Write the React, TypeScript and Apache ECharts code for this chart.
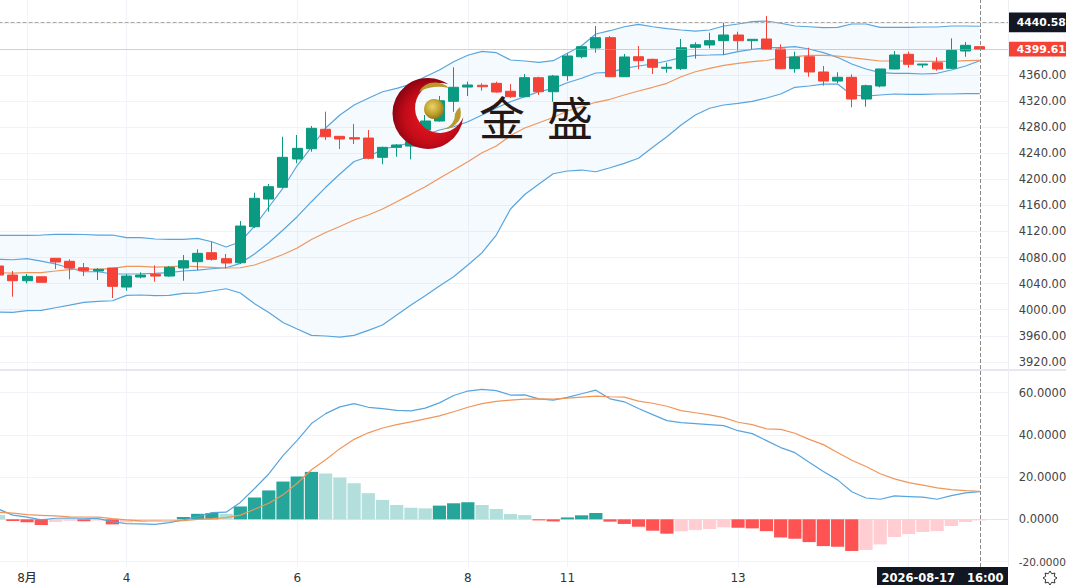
import React, { useEffect, useRef } from "react";
import * as echarts from "echarts";

const opens = [4067.0,4053.1,4044.4,4050.5,4078.8,4074.2,4064.3,4059.3,4063.9,4034.7,4050.1,4054.2,4051.6,4063.9,4073.6,4087.4,4078.2,4072.0,4127.2,4169.7,4187.7,4231.1,4246.9,4276.7,4265.9,4263.8,4263.3,4233.7,4249.0,4251.0,4275.6,4289.4,4319.6,4341.5,4344.2,4347.2,4335.0,4326.7,4355.8,4334.3,4358.9,4388.0,4401.4,4417.2,4357.3,4388.0,4384.0,4370.2,4369.6,4402.4,4406.0,4412.6,4421.3,4412.6,4415.2,4399.8,4369.6,4388.0,4364.6,4350.7,4356.4,4323.1,4343.1,4369.2,4391.7,4375.3,4378.8,4370.2,4396.8,4403.4];
const closes = [4053.1,4044.4,4051.1,4042.0,4073.1,4063.9,4059.7,4061.9,4035.8,4051.6,4053.1,4051.6,4065.0,4075.1,4086.4,4077.2,4071.6,4128.3,4170.8,4188.6,4233.7,4247.5,4278.2,4265.3,4261.8,4261.8,4232.2,4249.0,4252.6,4257.6,4289.4,4320.5,4341.1,4344.6,4342.0,4333.9,4326.7,4355.8,4334.3,4358.4,4389.1,4403.4,4417.2,4357.3,4387.6,4381.9,4371.8,4371.8,4401.8,4406.4,4412.6,4421.3,4412.6,4414.7,4399.4,4369.6,4387.6,4364.6,4350.7,4356.4,4323.1,4343.5,4369.2,4390.6,4376.4,4376.8,4369.2,4397.8,4405.5,4399.61];
const lows = [4048.6,4019.9,4040.4,4042.0,4062.4,4046.6,4051.6,4045.5,4017.9,4029.1,4048.1,4042.9,4050.5,4044.4,4060.8,4075.1,4063.4,4070.0,4125.2,4150.3,4186.6,4224.5,4242.3,4260.2,4246.4,4254.1,4230.6,4223.0,4234.6,4230.6,4267.9,4288.3,4303.6,4327.7,4335.9,4332.8,4324.7,4325.7,4329.3,4319.0,4351.2,4385.6,4394.2,4357.3,4357.3,4368.7,4361.5,4363.5,4367.6,4385.0,4400.9,4390.6,4397.2,4398.3,4399.4,4368.7,4363.5,4357.3,4343.5,4347.2,4310.4,4311.3,4341.1,4368.7,4371.1,4371.1,4366.5,4369.2,4388.0,4399.61];
const highs = [4073.1,4059.3,4054.7,4050.5,4078.8,4077.2,4071.6,4063.9,4063.9,4054.7,4057.3,4068.0,4067.0,4083.8,4092.6,4104.2,4085.4,4136.0,4179.4,4192.7,4265.3,4267.9,4281.7,4303.7,4266.4,4284.8,4275.6,4250.0,4254.1,4260.2,4298.6,4327.7,4371.8,4349.7,4347.2,4349.7,4346.1,4361.5,4357.3,4360.0,4393.2,4403.4,4435.1,4419.8,4392.2,4404.4,4385.0,4378.8,4415.2,4410.1,4424.8,4440.2,4426.4,4414.7,4450.5,4407.0,4395.7,4401.8,4373.8,4364.1,4361.0,4345.1,4369.2,4396.8,4395.7,4376.8,4387.1,4416.2,4410.6,4403.4];

const bandUpper = [4114.0,4114.0,4114.0,4114.5,4115.6,4115.6,4115.3,4114.5,4114.5,4110.4,4110.4,4108.4,4107.9,4107.9,4109.4,4104.2,4096.1,4104.2,4128.3,4157.5,4186.6,4221.1,4249.5,4278.6,4298.6,4313.9,4324.2,4334.3,4339.5,4346.1,4357.3,4367.6,4380.4,4390.2,4396.3,4394.2,4383.0,4381.4,4379.4,4381.9,4393.2,4404.9,4422.8,4427.9,4434.0,4437.7,4434.0,4431.0,4429.0,4427.4,4429.0,4435.1,4438.2,4441.7,4442.8,4439.3,4435.1,4434.0,4432.5,4433.1,4438.2,4438.2,4433.1,4433.1,4433.1,4433.6,4433.6,4435.1,4435.1,4434.7];
const bandInner = [4077.2,4076.6,4078.2,4074.6,4070.0,4063.9,4058.2,4058.2,4054.7,4054.7,4055.1,4055.8,4056.7,4059.3,4060.8,4062.8,4064.3,4071.1,4085.4,4102.7,4122.2,4142.6,4165.6,4187.7,4208.1,4227.3,4234.6,4246.0,4251.0,4256.1,4267.9,4275.6,4280.6,4288.3,4298.6,4309.3,4319.0,4326.7,4334.3,4339.5,4348.1,4354.9,4363.0,4364.1,4370.2,4373.8,4376.8,4381.4,4386.5,4390.2,4390.6,4391.1,4395.7,4399.4,4401.8,4401.8,4403.4,4399.8,4394.2,4387.1,4376.8,4369.2,4363.5,4362.6,4362.6,4361.5,4362.6,4367.6,4373.8,4381.9];
const bandMiddle = [4056.7,4056.2,4056.7,4056.7,4059.3,4061.3,4062.8,4061.9,4063.4,4066.5,4066.5,4065.4,4065.9,4067.0,4065.9,4065.0,4063.9,4064.3,4068.5,4076.2,4084.6,4094.6,4107.6,4118.3,4127.5,4137.5,4145.2,4154.4,4165.6,4176.9,4188.6,4201.5,4214.2,4227.0,4240.8,4251.0,4267.1,4278.6,4286.8,4294.8,4304.7,4311.3,4318.1,4322.7,4329.3,4335.4,4341.1,4347.2,4357.3,4365.0,4370.2,4374.8,4377.9,4380.4,4382.2,4386.0,4388.0,4390.2,4390.2,4389.1,4386.5,4384.0,4381.4,4381.4,4381.4,4381.0,4381.0,4381.0,4381.9,4382.5];
const bandLower = [3996.4,3995.9,3998.4,3999.0,4003.0,4007.1,4011.3,4012.8,4013.7,4022.0,4022.5,4021.4,4022.0,4025.1,4025.5,4028.6,4032.1,4025.5,4009.1,3995.6,3980.3,3970.3,3960.6,3959.6,3958.0,3960.6,3968.3,3976.4,3991.8,4007.1,4021.4,4036.3,4050.5,4068.5,4087.4,4114.5,4154.4,4176.6,4192.7,4208.5,4212.7,4214.2,4211.6,4217.7,4224.5,4232.2,4249.0,4265.3,4283.3,4298.6,4308.9,4313.9,4316.5,4319.6,4324.7,4330.8,4341.1,4343.1,4346.1,4346.1,4329.3,4327.7,4329.3,4330.8,4330.3,4330.3,4330.8,4330.8,4331.3,4331.3];

const macdLine = [4.8,2.0,1.0,-0.3,0.5,0.6,0.5,0.3,-1.1,-2.1,-2.2,-2.4,-1.6,-0.3,1.2,3.2,3.4,8.0,14.6,21.5,30.2,37.4,45.4,50.1,53.3,54.8,53.1,52.5,51.6,51.4,52.7,55.2,58.7,60.8,61.6,61.0,58.9,59.0,57.1,56.5,57.8,59.5,61.2,57.1,55.7,52.5,49.6,46.8,45.8,45.4,44.9,44.4,42.0,40.6,37.3,34.0,31.6,27.1,22.7,18.7,13.1,10.1,9.5,11.1,10.8,10.5,9.5,11.2,12.5,13.1];
const signalLine = [3.3,2.9,2.2,1.9,1.6,1.2,1.1,1.0,0.3,-0.3,-0.7,-0.8,-0.8,-0.6,0.0,0.3,0.8,2.0,4.8,7.6,11.6,17.1,23.5,28.2,33.5,37.9,41.0,43.3,44.9,46.2,47.6,49.0,51.0,53.1,54.8,55.9,56.5,57.0,57.1,57.0,57.4,57.9,58.4,58.1,57.9,56.0,55.0,53.6,51.5,50.5,49.5,48.2,46.0,44.9,42.9,42.6,40.8,37.9,35.4,31.7,28.0,25.0,21.6,19.2,17.4,16.2,14.9,14.1,13.6,13.3];
const histogram = [2.0,-0.8,-1.4,-2.7,-1.3,-0.7,-0.9,-0.6,-2.4,-1.5,-1.2,-0.8,-0.5,1.1,2.6,3.0,2.6,6.1,10.4,13.7,17.9,20.3,22.5,21.7,19.8,17.1,12.4,9.2,6.8,5.5,5.2,6.5,7.6,8.1,6.8,4.9,2.5,2.0,-0.5,-1.0,0.9,1.9,3.0,-1.1,-2.2,-3.5,-5.4,-6.8,-5.7,-5.1,-4.6,-3.8,-4.0,-4.3,-5.6,-8.6,-9.2,-10.8,-12.7,-13.0,-15.0,-14.5,-11.9,-8.4,-7.0,-6.0,-5.6,-3.2,-1.3,-0.5];

const categoryCount = 72;
const dayGridIndex = [2, 9, 21, 33, 40, 52, 64];
const dayTickLabels = ["8月", "4", "6", "8", "11", "13", ""];
const priceGridTicks = [3920, 3960, 4000, 4040, 4080, 4120, 4160, 4200, 4240, 4280, 4320, 4360, 4400, 4440];
const priceLabelTicks = [3920, 3960, 4000, 4040, 4080, 4120, 4160, 4200, 4240, 4280, 4320, 4360];
const macdTicks = [-20, 0, 20, 40, 60];
const highMark = 4440.58;
const lastPrice = 4399.61;
const crosshairIndex = 69;
const crosshairDate = "2026-08-17   16:00";

const GREEN = "#0a9981";
const RED = "#f44336";
const GRID = "#f1f3f8";
const BLUE = "#58a5de";
const ORANGE = "#f0965a";
const LABEL = "#444444";
const FONT = "'DejaVu Sans', 'Noto Sans CJK SC', sans-serif";

echarts.graphic.registerShape(
  "jsCrescent",
  echarts.graphic.extendPath("M448.3 84.3 A35.5 35.5 0 1 0 463.3 117.1 A25 25 0 1 1 448.3 84.3 Z", {})
);
echarts.graphic.registerShape(
  "jsSwooshTop",
  echarts.graphic.extendPath("M419 92 Q424 82 436 82.5 Q444 83 449 88 Q440 86 434 87 Q425 88 419 92 Z", {})
);
echarts.graphic.registerShape(
  "jsSwooshLow",
  echarts.graphic.extendPath("M445 129 Q455 124 455 114 Q456 110 460 107 Q463 118 456 124 Q451 129 445 129 Z", {})
);

const gearPoints: number[][] = [];
for (let k = 0; k < 16; k++) {
  const r = k % 2 === 0 ? 7 : 4.6;
  const a = (k * Math.PI) / 8;
  gearPoints.push([1050 + r * Math.sin(a), 578 - r * Math.cos(a)]);
}

export default function App() {
  const ref = useRef<HTMLDivElement>(null);

  useEffect(() => {
    const chart = echarts.init(ref.current!, undefined, { renderer: "svg" });
    const categories = Array.from({ length: categoryCount }, (_, i) => String(i));
    const candles = opens.map((o, i) => [o, closes[i], lows[i], highs[i]]);
    const bandSpan = bandUpper.map((u, i) => +(u - bandLower[i]).toFixed(2));
    const isDay = (i: number) => dayGridIndex.indexOf(i) >= 0;
    const dayLabel = (i: number) => dayTickLabels[dayGridIndex.indexOf(i)] || "";

    const plainLine = (name: string, data: number[], color: string, x: number, z = 3) => ({
      name,
      type: "line",
      data,
      xAxisIndex: x,
      yAxisIndex: x,
      symbol: "none",
      silent: true,
      z,
      lineStyle: { color, width: 1.2 },
    });

    const vertical = (show: boolean) => ({
      show,
      interval: (i: number) => isDay(i),
      lineStyle: { color: GRID, width: 1 },
    });

    chart.setOption({
      animation: false,
      backgroundColor: "#ffffff",
      grid: [
        { left: -1.4, right: 57.8, top: 0, height: 369, outerBoundsMode: "none" },
        { left: -1.4, right: 57.8, top: 371, height: 196, outerBoundsMode: "none" },
      ],
      xAxis: [
        {
          type: "category",
          gridIndex: 0,
          data: categories,
          boundaryGap: false,
          axisLine: { show: false },
          axisTick: { show: false },
          axisLabel: { show: false },
          splitLine: vertical(true),
        },
        {
          type: "category",
          gridIndex: 1,
          data: categories,
          boundaryGap: false,
          axisLine: { show: true, lineStyle: { color: "#e4e6ec", width: 1 } },
          axisTick: { show: false },
          axisLabel: {
            interval: (i: number) => isDay(i) && dayLabel(i) !== "",
            formatter: (_: string, i: number) => dayLabel(i),
            color: "#333333",
            fontSize: 12,
            fontFamily: FONT,
            margin: 5,
            fontWeight: 500,
          },
          splitLine: vertical(true),
        },
      ],
      yAxis: [
        {
          type: "value",
          gridIndex: 0,
          position: "right",
          min: 3909,
          max: 4475,
          axisLine: { show: false },
          axisTick: { show: false, customValues: priceGridTicks },
          axisLabel: {
            customValues: priceLabelTicks,
            formatter: (v: number) => v.toFixed(2),
            color: LABEL,
            fontSize: 11.5,
            fontFamily: FONT,
            margin: 10.5,
            align: "left",
          },
          splitLine: { show: true, lineStyle: { color: GRID, width: 1 } },
        },
        {
          type: "value",
          gridIndex: 1,
          position: "right",
          min: -22.6,
          max: 70.3,
          axisLine: { show: false },
          axisTick: { show: false, customValues: macdTicks },
          axisLabel: {
            customValues: macdTicks,
            formatter: (v: number) => (v < 0 ? `{small|${v.toFixed(4)}}` : v.toFixed(4)),
            rich: { small: { fontSize: 10.5, color: LABEL, fontFamily: FONT } },
            color: LABEL,
            fontSize: 11.5,
            fontFamily: FONT,
            margin: 10.5,
            align: "left",
          },
          splitLine: { show: true, lineStyle: { color: GRID, width: 1 } },
        },
      ],
      series: [
        {
          name: "bandBase",
          type: "line",
          stack: "band",
          data: bandLower,
          symbol: "none",
          silent: true,
          z: 1,
          lineStyle: { opacity: 0, width: 0 },
        },
        {
          name: "bandFill",
          type: "line",
          stack: "band",
          data: bandSpan,
          symbol: "none",
          silent: true,
          z: 1,
          lineStyle: { opacity: 0, width: 0 },
          areaStyle: { color: "rgba(33,150,243,0.05)", opacity: 1 },
        },
        plainLine("upper", bandUpper, BLUE, 0),
        plainLine("inner", bandInner, BLUE, 0),
        plainLine("middle", bandMiddle, ORANGE, 0),
        plainLine("lower", bandLower, BLUE, 0),
        {
          name: "price",
          type: "candlestick",
          data: candles,
          barWidth: 10.5,
          silent: true,
          z: 4,
          itemStyle: {
            color: GREEN,
            color0: RED,
            borderColor: GREEN,
            borderColor0: RED,
            borderWidth: 1,
          },
          markLine: {
            silent: true,
            symbol: "none",
            animation: false,
            z: 6,
            data: [
              {
                yAxis: highMark,
                lineStyle: { color: "#a8a8a8", type: "dashed", width: 1 },
                label: {
                  show: true,
                  position: "end",
                  distance: 0,
                  formatter: highMark.toFixed(2),
                  color: "#ffffff",
                  fontWeight: "bold",
                  fontSize: 10.8,
                  fontFamily: FONT,
                  backgroundColor: "#131722",
                  padding: [4.5, 0.6, 4.5, 8.5],
                },
              },
              {
                yAxis: lastPrice,
                lineStyle: { color: "#f6918a", type: "dotted", width: 1 },
                label: {
                  show: true,
                  position: "end",
                  distance: 0,
                  formatter: lastPrice.toFixed(2),
                  color: "#ffffff",
                  fontWeight: "bold",
                  fontSize: 10.8,
                  fontFamily: FONT,
                  backgroundColor: RED,
                  padding: [2, 0.6, 2, 8.5],
                },
              },
              {
                xAxis: crosshairIndex,
                lineStyle: { color: "#8a8a8a", type: "dashed", width: 1 },
                label: { show: false },
              },
            ],
          },
        },
        {
          name: "histogram",
          type: "bar",
          xAxisIndex: 1,
          yAxisIndex: 1,
          data: histogram,
          barWidth: 13.2,
          silent: true,
          z: 2,
          itemStyle: {
            color: (p: any) => {
              const prev = p.dataIndex === 0 ? Infinity : histogram[p.dataIndex - 1];
              const v = p.value as number;
              if (v >= 0) return v > prev ? "#26a69a" : "#b2dfdb";
              return v < prev ? "#ff5252" : "#ffcdd2";
            },
          },
          markLine: {
            silent: true,
            symbol: "none",
            animation: false,
            z: 6,
            data: [
              {
                xAxis: crosshairIndex,
                lineStyle: { color: "#8a8a8a", type: "dashed", width: 1 },
                label: { show: false },
              },
            ],
          },
        },
        plainLine("macd", macdLine, BLUE, 1),
        plainLine("signal", signalLine, ORANGE, 1),
      ],
      graphic: [
        {
          type: "rect",
          z: 50,
          silent: true,
          shape: { x: 0, y: 369, width: 1066, height: 2 },
          style: { fill: "#e6e8ee" },
        },
        {
          type: "line",
          z: 50,
          silent: true,
          shape: { x1: 1008.5, y1: 0, x2: 1008.5, y2: 567 },
          style: { stroke: "#eceef3", lineWidth: 1 },
        },
        {
          type: "jsCrescent",
          z: 60,
          silent: true,
          style: {
            fill: new echarts.graphic.RadialGradient(0.55, 0.55, 0.62, [
              { offset: 0, color: "#f01824" },
              { offset: 0.6, color: "#c40c18" },
              { offset: 1, color: "#7c0010" },
            ]),
          },
        },
        {
          type: "circle",
          z: 61,
          silent: true,
          shape: { cx: 434, cy: 109, r: 10 },
          style: {
            fill: new echarts.graphic.RadialGradient(0.42, 0.38, 0.65, [
              { offset: 0, color: "#e9d56a" },
              { offset: 0.6, color: "#bfa02c" },
              { offset: 1, color: "#8e7416" },
            ]),
          },
        },
        { type: "jsSwooshTop", z: 61, silent: true, style: { fill: "#b89a2e" } },
        { type: "jsSwooshLow", z: 61, silent: true, style: { fill: "#b89a2e" } },
        {
          type: "text",
          z: 62,
          silent: true,
          x: 502,
          y: 115,
          style: {
            text: "金",
            fontSize: 46,
            fontFamily: "'Noto Sans CJK SC', sans-serif",
            fill: "#231815",
            align: "center",
            verticalAlign: "middle",
          },
        },
        {
          type: "text",
          z: 62,
          silent: true,
          x: 570,
          y: 115,
          style: {
            text: "盛",
            fontSize: 46,
            fontFamily: "'Noto Sans CJK SC', sans-serif",
            fill: "#231815",
            align: "center",
            verticalAlign: "middle",
          },
        },
        {
          type: "rect",
          z: 70,
          silent: true,
          shape: { x: 877, y: 567, width: 131, height: 18 },
          style: { fill: "#131722" },
        },
        {
          type: "text",
          z: 71,
          silent: true,
          x: 942.5,
          y: 578,
          style: {
            text: crosshairDate,
            fontSize: 11.5,
            fontWeight: "bold",
            fontFamily: FONT,
            fill: "#ffffff",
            align: "center",
            verticalAlign: "middle",
          },
        },
        {
          type: "polygon",
          z: 71,
          silent: true,
          shape: { points: gearPoints },
          style: { fill: "none", stroke: "#333333", lineWidth: 1 },
        },
      ],
    });

    return () => chart.dispose();
  }, []);

  return (
    <div
      ref={ref}
      style={{ position: "fixed", left: 0, top: 0, width: 1066, height: 585, background: "#ffffff" }}
    />
  );
}
